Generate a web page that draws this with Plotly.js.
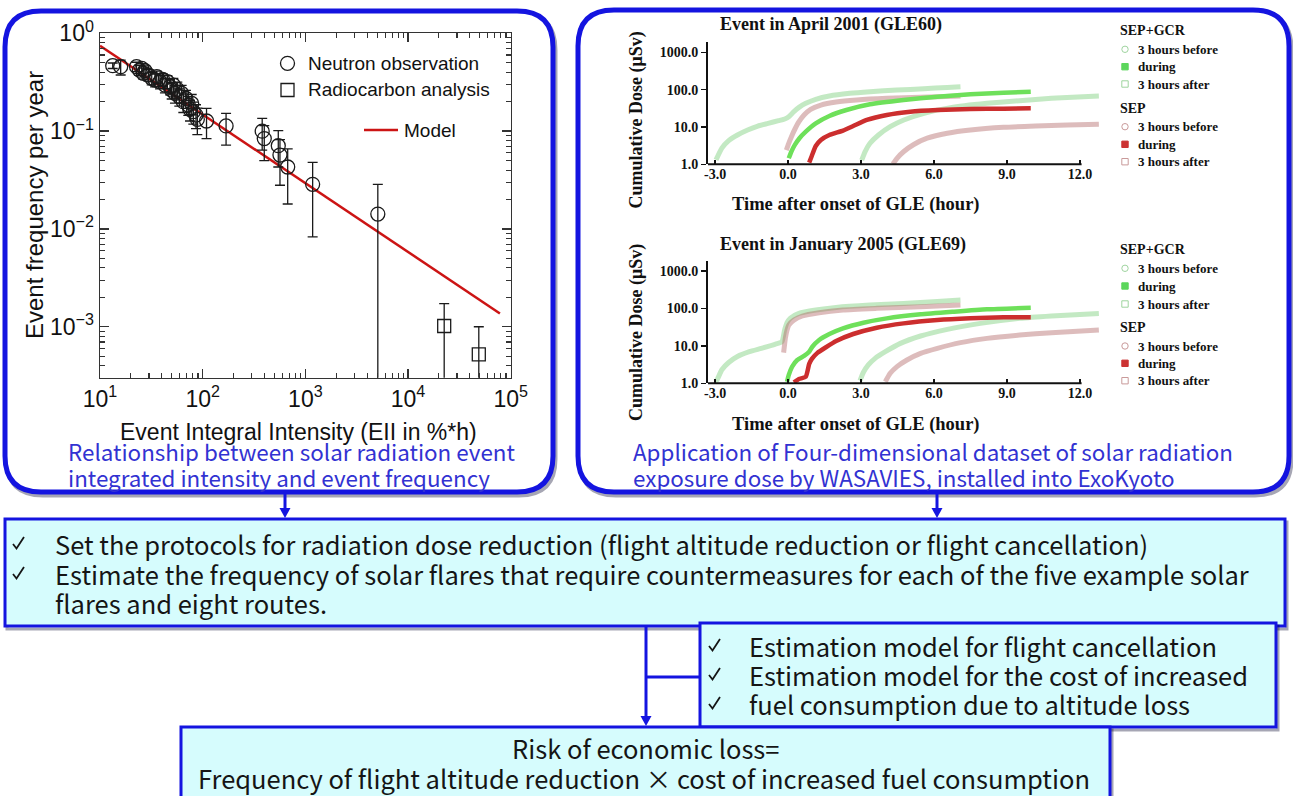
<!DOCTYPE html>
<html><head><meta charset="utf-8">
<script src="https://cdn.plot.ly/plotly-3.0.1.min.js"></script>
<style>html,body{margin:0;padding:0;background:#fff;overflow:hidden}#chart{width:1293px;height:796px}</style>
</head><body><div id="chart"></div>
<script>
// ---------- Left chart data ----------
const neutronEII = [13.3, 15.9, 22.7, 24.2, 25.5, 26.4, 27.4, 29.6, 31.9, 34.4, 35.7, 38.4, 40.7, 42.9, 45.3, 48.1, 49.9, 51.8, 53.7, 56.6, 59.2, 62.4, 64.8, 68.7, 72.4, 75.2, 78.2, 81.1, 86.1, 88.7, 109, 169, 380, 398, 545, 566, 673, 1178, 5080];
const neutronFreq = [0.467, 0.456, 0.456, 0.421, 0.438, 0.390, 0.415, 0.375, 0.347, 0.333, 0.360, 0.320, 0.338, 0.296, 0.320, 0.285, 0.263, 0.296, 0.243, 0.267, 0.225, 0.243, 0.200, 0.216, 0.185, 0.167, 0.192, 0.158, 0.146, 0.132, 0.127, 0.113, 0.100, 0.084, 0.071, 0.057, 0.043, 0.0286, 0.0142];
const neutronErrUp = [0.03, 0.077, 0.05, 0.05, 0.05, 0.05, 0.05, 0.05, 0.05, 0.05, 0.05, 0.05, 0.05, 0.05, 0.05, 0.05, 0.05, 0.05, 0.05, 0.05, 0.045, 0.05, 0.045, 0.045, 0.04, 0.04, 0.045, 0.04, 0.04, 0.04, 0.044, 0.039, 0.035, 0.03, 0.030, 0.025, 0.023, 0.0194, 0.0144];
const neutronErrDown = [0.03, 0.081, 0.05, 0.05, 0.05, 0.05, 0.05, 0.05, 0.05, 0.05, 0.05, 0.05, 0.05, 0.05, 0.05, 0.05, 0.05, 0.05, 0.05, 0.05, 0.045, 0.05, 0.045, 0.045, 0.04, 0.04, 0.045, 0.04, 0.04, 0.04, 0.043, 0.041, 0.036, 0.034, 0.028, 0.029, 0.025, 0.0203, 0.0141];
const radiocarbonEII = [22500, 48900];
const radiocarbonFreq = [0.00102, 0.000522];
const radiocarbonErrUp = [0.00071, 0.00048];
const radiocarbonErrDown = [0.00101, 0.00052];
const modelEII = [10, 78500];
const modelFreq = [0.747, 0.00137];
const leftXTickVals = [10, 100, 1000, 10000, 100000];
const leftXTickText = ['10<sup>1</sup>', '10<sup>2</sup>', '10<sup>3</sup>', '10<sup>4</sup>', '10<sup>5</sup>'];
const leftYTickVals = [1, 0.1, 0.01, 0.001];
const leftYTickText = ['10<sup>0</sup>', '10<sup>−1</sup>', '10<sup>−2</sup>', '10<sup>−3</sup>'];

// ---------- Right charts data (hours after onset, cumulative dose µSv) ----------
const g60GcrBeforeT = [-2.96, -2.72, -2.44, -2.08, -1.66, -1.24, -0.82, -0.39, -0.11, 0.03, 0.24, 0.45, 0.73, 1.14, 1.70, 2.54, 3.37, 4.48, 5.59, 6.55, 7.09];
const g60GcrBeforeD = [1.31, 2.7, 4.3, 6.1, 8.3, 10.6, 12.5, 14.8, 16.7, 18.9, 25.8, 33.6, 43, 55, 67.6, 79.7, 88.3, 97.8, 106, 115, 120];
const g60SepBeforeT = [-0.07, 0.03, 0.14, 0.28, 0.45, 0.66, 0.93, 1.35, 1.98, 2.82, 4.06, 5.45, 6.82, 7.09];
const g60SepBeforeD = [2.4, 3.65, 5.5, 8.7, 13.9, 21, 29.7, 38.8, 46.7, 52.9, 58.6, 62.3, 66.3, 67.6];
const g60GcrDuringT = [0.03, 0.14, 0.28, 0.47, 0.73, 1.14, 1.70, 2.40, 3.37, 4.75, 6.14, 7.50, 8.86, 9.98];
const g60GcrDuringD = [1.45, 2.2, 3.3, 5.0, 7.5, 12.5, 19.7, 28.5, 40.5, 52.9, 64.9, 75, 83, 88.3];
const g60SepDuringT = [0.87, 0.98, 1.14, 1.35, 1.70, 2.26, 2.68, 3.24, 4.06, 5.03, 6.14, 7.50, 8.86, 9.98];
const g60SepDuringD = [1.11, 1.7, 3.1, 4.5, 6.1, 8.0, 10.6, 15.4, 21, 25.7, 28.5, 30.3, 31, 31.6];
const g60GcrAfterT = [3.03, 3.17, 3.37, 3.72, 4.20, 4.76, 5.59, 6.68, 8.18, 9.52, 10.83, 12.13, 12.78];
const g60GcrAfterD = [1.3, 2.2, 3.65, 6.1, 10.2, 15.4, 23.2, 33, 43, 50.7, 58.6, 64.9, 67.6];
const g60SepAfterT = [4.31, 4.48, 4.76, 5.17, 5.72, 6.55, 7.50, 8.86, 10.17, 11.48, 12.78];
const g60SepAfterD = [1.02, 1.45, 2.2, 3.4, 5.0, 6.8, 8.3, 9.8, 10.6, 11.3, 11.8];

const g69GcrBeforeT = [-3.0, -2.93, -2.72, -2.44, -2.08, -1.59, -1.10, -0.54, -0.25, -0.14, -0.04, 0.10, 0.45, 1.14, 1.98, 3.37, 4.75, 6.14, 7.09];
const g69GcrBeforeD = [1.1, 1.2, 2.3, 3.6, 5.2, 7.0, 8.6, 11.0, 13.0, 26.6, 41.8, 55.6, 74, 91, 107, 124, 137, 155, 168];
const g69SepBeforeT = [-0.18, -0.11, -0.04, 0.03, 0.24, 0.59, 1.28, 2.26, 3.65, 5.45, 7.09];
const g69SepBeforeD = [6.6, 16, 26.6, 36, 49, 63, 77, 91, 101, 112, 124];
const g69GcrDuringT = [-0.04, 0.03, 0.17, 0.38, 0.66, 0.87, 1.00, 1.28, 1.70, 2.26, 3.10, 4.06, 5.45, 6.82, 8.18, 9.98];
const g69GcrDuringD = [1.1, 1.67, 2.8, 4.2, 5.4, 7.0, 9.5, 14.4, 20.8, 29.5, 41.7, 54.5, 69.7, 82, 95, 105];
const g69SepDuringT = [0.24, 0.45, 0.73, 0.87, 0.98, 1.21, 1.56, 1.98, 2.68, 3.65, 4.75, 6.14, 7.50, 8.86, 9.98];
const g69SepDuringD = [1.06, 1.3, 1.5, 3.3, 4.5, 6.5, 9.2, 13.5, 20.8, 30.7, 40, 49, 54.5, 58, 58];
const g69GcrAfterT = [2.96, 3.10, 3.30, 3.58, 4.00, 4.62, 5.45, 6.55, 7.91, 9.52, 10.83, 12.78];
const g69GcrAfterD = [1.18, 1.97, 3.1, 4.65, 7.0, 11.7, 18.4, 27.7, 40, 54.5, 63, 74];
const g69SepAfterT = [4.00, 4.20, 4.48, 4.89, 5.45, 6.14, 7.09, 8.18, 9.52, 10.83, 12.78];
const g69SepAfterD = [1.1, 1.85, 2.8, 4.2, 6.3, 8.6, 12.2, 15.9, 19.5, 22.6, 26.6];

const doseTickVals = [1, 10, 100, 1000];
const doseTickText = ['1.0', '10.0', '100.0', '1000.0'];
const hourTickVals = [-3, 0, 3, 6, 9, 12];
const hourTickText = ['-3.0', '0.0', '3.0', '6.0', '9.0', '12.0'];
const legendLabels = ['3 hours before', 'during', '3 hours after'];

// ---------- helpers (positions only) ----------
const W = 1293, H = 796;
const PX = v => v / W, PY = v => 1 - v / H;
const SANS = 'Liberation Sans, Arial, sans-serif';
const SERIF = 'Liberation Serif, Times New Roman, serif';
const JP = 'Noto Sans CJK JP, Noto Sans, sans-serif';
const BLUE = '#1414e0';

function roundRect(x0, y0, x1, y1, r) {
  const p = (x, y) => PX(x).toFixed(5) + ',' + PY(y).toFixed(5);
  return 'M' + p(x0 + r, y0) + ' L' + p(x1 - r, y0) + ' Q' + p(x1, y0) + ' ' + p(x1, y0 + r) +
    ' L' + p(x1, y1 - r) + ' Q' + p(x1, y1) + ' ' + p(x1 - r, y1) + ' L' + p(x0 + r, y1) +
    ' Q' + p(x0, y1) + ' ' + p(x0, y1 - r) + ' L' + p(x0, y0 + r) + ' Q' + p(x0, y0) + ' ' + p(x0 + r, y0) + ' Z';
}
function tri(x, yTip, w, h) {
  return 'M' + PX(x - w) + ',' + PY(yTip - h) + ' L' + PX(x + w) + ',' + PY(yTip - h) + ' L' + PX(x) + ',' + PY(yTip) + ' Z';
}
function ann(x, y, text, font, opts) {
  return Object.assign({x: PX(x), y: PY(y), xref: 'paper', yref: 'paper', text: text, showarrow: false,
    xanchor: 'left', yanchor: 'middle', font: font}, opts || {});
}

// ---------- traces ----------
const traces = [];
traces.push({x: modelEII, y: modelFreq, mode: 'lines', line: {color: '#cc1414', width: 2.5}, xaxis: 'x', yaxis: 'y', hoverinfo: 'skip'});
traces.push({x: neutronEII, y: neutronFreq, mode: 'markers', xaxis: 'x', yaxis: 'y',
  marker: {symbol: 'circle-open', size: 14, color: '#1a1a1a', line: {width: 1.3}},
  error_y: {type: 'data', symmetric: false, array: neutronErrUp, arrayminus: neutronErrDown, color: '#1a1a1a', thickness: 1.3, width: 5}});
traces.push({x: radiocarbonEII, y: radiocarbonFreq, mode: 'markers', xaxis: 'x', yaxis: 'y',
  marker: {symbol: 'square-open', size: 13, color: '#1a1a1a', line: {width: 1.3}},
  error_y: {type: 'data', symmetric: false, array: radiocarbonErrUp, arrayminus: radiocarbonErrDown, color: '#1a1a1a', thickness: 1.3, width: 5}});

const GOPEN = 'rgba(135,212,135,0.5)', ROPEN = 'rgba(175,95,95,0.42)', GFILL = '#6ee05a', RFILL = '#cc2e2e';
function doseTrace(t, d, color, width, ax) {
  return {x: t, y: d, mode: 'lines', line: {color: color, width: width, shape: 'spline', smoothing: 0.5},
    xaxis: 'x' + ax, yaxis: 'y' + ax, hoverinfo: 'skip'};
}
[[2, g60GcrBeforeT, g60GcrBeforeD, g60SepBeforeT, g60SepBeforeD, g60GcrAfterT, g60GcrAfterD, g60SepAfterT, g60SepAfterD, g60GcrDuringT, g60GcrDuringD, g60SepDuringT, g60SepDuringD],
 [3, g69GcrBeforeT, g69GcrBeforeD, g69SepBeforeT, g69SepBeforeD, g69GcrAfterT, g69GcrAfterD, g69SepAfterT, g69SepAfterD, g69GcrDuringT, g69GcrDuringD, g69SepDuringT, g69SepDuringD]
].forEach(s => {
  const ax = s[0];
  traces.push(doseTrace(s[1], s[2], GOPEN, 5, ax));
  traces.push(doseTrace(s[3], s[4], ROPEN, 5, ax));
  traces.push(doseTrace(s[5], s[6], GOPEN, 5, ax));
  traces.push(doseTrace(s[7], s[8], ROPEN, 5, ax));
  traces.push(doseTrace(s[9], s[10], GFILL, 4.5, ax));
  traces.push(doseTrace(s[11], s[12], RFILL, 4.5, ax));
});

// ---------- axes ----------
const minorX = [], minorY = [];
for (let k = 1; k <= 4; k++) for (let m = 2; m <= 9; m++) minorX.push(m * Math.pow(10, k));
for (let k = -4; k <= -1; k++) for (let m = 2; m <= 9; m++) minorY.push(m * Math.pow(10, k));

const leftAxis = {showgrid: false, zeroline: false, showline: true, linecolor: '#333', linewidth: 1.5, mirror: 'allticks',
  ticks: 'inside', ticklen: 9, tickwidth: 1.3, tickcolor: '#333', tickfont: {family: SANS, size: 23, color: '#111'}};
const xLeft = Object.assign({}, leftAxis, {type: 'log', domain: [PX(100), PX(510.7)], range: [1, 5], anchor: 'y',
  tickmode: 'array', tickvals: leftXTickVals, ticktext: leftXTickText,
  minor: {tickmode: 'array', tickvals: minorX, ticks: 'inside', ticklen: 4.5, tickcolor: '#333', tickwidth: 1.1}});
const yLeft = Object.assign({}, leftAxis, {type: 'log', domain: [PY(377.7), PY(33.3)], range: [-3.52, 0], anchor: 'x',
  tickmode: 'array', tickvals: leftYTickVals, ticktext: leftYTickText,
  minor: {tickmode: 'array', tickvals: minorY, ticks: 'inside', ticklen: 4.5, tickcolor: '#333', tickwidth: 1.1}});

const hourAxis = (anchor) => ({domain: [PX(708), PX(1103)], range: [-3.29, 12.95], anchor: anchor, showgrid: false, zeroline: false,
  showline: false, tickmode: 'array', tickvals: hourTickVals, ticktext: hourTickText, ticks: 'inside', ticklen: 4, tickwidth: 1.5, tickcolor: '#111',
  tickfont: {family: SERIF, size: 14, color: '#111', weight: 'bold'}});
const doseAxis = (anchor, dom) => ({type: 'log', domain: dom, range: [0, 3.27], anchor: anchor, showgrid: false, zeroline: false,
  showline: true, linecolor: '#111', linewidth: 2, tickmode: 'array', tickvals: doseTickVals, ticktext: doseTickText,
  ticks: 'outside', ticklen: 5, tickwidth: 1.5, tickcolor: '#111', tickfont: {family: SERIF, size: 14, color: '#111', weight: 'bold'}});

// ---------- shapes ----------
const shapes = [];
function box(x0, y0, x1, y1, r, fill, lw) {
  shapes.push({type: 'path', path: roundRect(x0 + 2, y0 + 3, x1 + 2, y1 + 3, r), xref: 'paper', yref: 'paper',
    line: {color: 'rgba(0,0,40,0.35)', width: lw}, fillcolor: 'rgba(0,0,0,0)', layer: 'below'});
  shapes.push({type: 'path', path: roundRect(x0, y0, x1, y1, r), xref: 'paper', yref: 'paper',
    line: {color: BLUE, width: lw}, fillcolor: fill, layer: 'below'});
}
function vline(x, y0, y1) { shapes.push({type: 'line', xref: 'paper', yref: 'paper', x0: PX(x), x1: PX(x), y0: PY(y0), y1: PY(y1), line: {color: BLUE, width: 3}, layer: 'below'}); }
function hline(x0, x1, y) { shapes.push({type: 'line', xref: 'paper', yref: 'paper', x0: PX(x0), x1: PX(x1), y0: PY(y), y1: PY(y), line: {color: BLUE, width: 3}, layer: 'below'}); }
function arrowHead(x, yTip) { shapes.push({type: 'path', path: tri(x, yTip, 5.5, 10), xref: 'paper', yref: 'paper', line: {width: 0}, fillcolor: BLUE, layer: 'below'}); }

box(5, 11, 553, 492, 36, '#ffffff', 5);
box(578, 10, 1289, 492, 36, '#ffffff', 5);
vline(285, 494, 512); arrowHead(285, 518);
vline(937, 494, 512); arrowHead(937, 518);
box(5, 519, 1285, 626, 0, '#d6fcfd', 3);
vline(646, 626, 718); arrowHead(646, 726);
hline(646, 700, 677);
box(700, 623, 1276, 727, 0, '#d6fcfd', 3);
box(181, 727, 1110, 806, 0, '#d6fcfd', 3);

// x-axis lines of the dose charts (stop at 12 h)
[[2, 164.3], [3, 383.3]].forEach(a => shapes.push({type: 'line', xref: 'x' + a[0], yref: 'paper', x0: -3.29, x1: 12.07,
  y0: PY(a[1]), y1: PY(a[1]), line: {color: '#111', width: 2}}));

// left legend symbols
shapes.push({type: 'circle', xref: 'paper', yref: 'paper', x0: PX(280.5), x1: PX(294.5), y0: PY(70.3), y1: PY(56.3), line: {color: '#1a1a1a', width: 1.3}});
shapes.push({type: 'rect', xref: 'paper', yref: 'paper', x0: PX(281), x1: PX(294), y0: PY(96.5), y1: PY(83.5), line: {color: '#1a1a1a', width: 1.3}});
shapes.push({type: 'line', xref: 'paper', yref: 'paper', x0: PX(364), x1: PX(398), y0: PY(130), y1: PY(130), line: {color: '#cc1414', width: 2.5}});

// right legend symbols
function legSym(kind, y, color, filled) {
  const s = 3.2;
  shapes.push({type: kind, xref: 'paper', yref: 'paper', x0: PX(1125 - s), x1: PX(1125 + s), y0: PY(y + s), y1: PY(y - s),
    line: {color: color, width: 1}, fillcolor: filled ? color : 'rgba(0,0,0,0)'});
}
[[49.3, 66.7, 84, 126.7, 144.3, 161.7], [268.3, 286, 304, 346, 363.3, 380.7]].forEach(ys => {
  legSym('circle', ys[0], '#9fd49f', false); legSym('rect', ys[1], '#5cd65c', true); legSym('rect', ys[2], '#9fd49f', false);
  legSym('circle', ys[3], '#c99a9a', false); legSym('rect', ys[4], '#cc3333', true); legSym('rect', ys[5], '#c99a9a', false);
});

// check marks drawn as small paths
function checkMark(x, y) {
  const pts = [[x, y], [x + 3.5, y + 4.5], [x + 11, y - 7]];
  shapes.push({type: 'path', xref: 'paper', yref: 'paper', line: {color: '#151515', width: 1.8},
    path: 'M' + PX(pts[0][0]) + ',' + PY(pts[0][1]) + ' L' + PX(pts[1][0]) + ',' + PY(pts[1][1]) + ' L' + PX(pts[2][0]) + ',' + PY(pts[2][1])});
}
[[13, 544], [13, 574], [709, 646], [709, 675], [709, 704]].forEach(c => checkMark(c[0], c[1]));

// ---------- annotations ----------
const annotations = [];
const legFont = {family: SANS, size: 19, color: '#111'};
annotations.push(ann(306, 63.3, 'Neutron observation', legFont));
annotations.push(ann(306, 90, 'Radiocarbon analysis', legFont));
annotations.push(ann(402, 130, 'Model', legFont));
annotations.push(ann(35, 205, 'Event frequency per year', {family: SANS, size: 24, color: '#111'}, {xanchor: 'center', textangle: -90}));
annotations.push(ann(298, 432, 'Event Integral Intensity (EII in %*h)', {family: SANS, size: 23, color: '#111'}, {xanchor: 'center'}));

const serifB = sz => ({family: SERIF, size: sz, color: '#111'});
[[0, 'Event in April 2001 (GLE60)', 831], [219, 'Event in January 2005 (GLE69)', 843]].forEach(r => {
  const dy = r[0];
  annotations.push(ann(r[2], 25 + dy, '<b>' + r[1] + '</b>', serifB(18), {xanchor: 'center'}));
  annotations.push(ann(856, 205 + dy, '<b>Time after onset of GLE (hour)</b>', serifB(18.5), {xanchor: 'center'}));
  annotations.push(ann(636.5, 120 + dy * 0.97, '<b>Cumulative Dose (μSv)</b>', serifB(18), {xanchor: 'center', textangle: -90}));
});
[[30.7, 49.3, 66.7, 84, 108.3, 126.7, 144.3, 161.7], [249.3, 268.3, 286, 304, 327.3, 346, 363.3, 380.7]].forEach(ys => {
  annotations.push(ann(1118, ys[0], '<b>SEP+GCR</b>', serifB(14)));
  for (let i = 0; i < 3; i++) annotations.push(ann(1136, ys[1 + i], '<b>' + legendLabels[i] + '</b>', serifB(13)));
  annotations.push(ann(1118, ys[4], '<b>SEP</b>', serifB(14)));
  for (let i = 0; i < 3; i++) annotations.push(ann(1136, ys[5 + i], '<b>' + legendLabels[i] + '</b>', serifB(13)));
});

const capFont = {family: JP, size: 22.4, color: '#3232d2'};
annotations.push(ann(66, 451, 'Relationship between solar radiation event', capFont));
annotations.push(ann(66, 477, 'integrated intensity and event frequency', capFont));
annotations.push(ann(631, 451, 'Application of Four-dimensional dataset of solar radiation', capFont));
annotations.push(ann(631, 477, 'exposure dose by WASAVIES, installed into ExoKyoto', capFont));

const boxFont = {family: JP, size: 25.5, color: '#151515'};
annotations.push(ann(53, 543, 'Set the protocols for radiation dose reduction (flight altitude reduction or flight cancellation)', boxFont));
annotations.push(ann(53, 573, 'Estimate the frequency of solar flares that require countermeasures for each of the five example solar', boxFont));
annotations.push(ann(53, 602, 'flares and eight routes.', boxFont));
annotations.push(ann(747, 645, 'Estimation model for flight cancellation', boxFont));
annotations.push(ann(747, 674, 'Estimation model for the cost of increased', boxFont));
annotations.push(ann(747, 703, 'fuel consumption due to altitude loss', boxFont));
annotations.push(ann(645, 747, 'Risk of economic loss=', boxFont, {xanchor: 'center'}));
annotations.push(ann(644, 777, 'Frequency of flight altitude reduction × cost of increased fuel consumption', boxFont, {xanchor: 'center'}));

const layout = {
  width: W, height: H, margin: {l: 0, r: 0, t: 0, b: 0}, paper_bgcolor: '#ffffff', plot_bgcolor: 'rgba(0,0,0,0)',
  showlegend: false,
  xaxis: xLeft, yaxis: yLeft,
  xaxis2: hourAxis('y2'), yaxis2: doseAxis('x2', [PY(164.3), PY(42.3)]),
  xaxis3: hourAxis('y3'), yaxis3: doseAxis('x3', [PY(383.3), PY(261)]),
  shapes: shapes, annotations: annotations
};
Plotly.newPlot('chart', traces, layout, {staticPlot: true, displayModeBar: false});
</script></body></html>
